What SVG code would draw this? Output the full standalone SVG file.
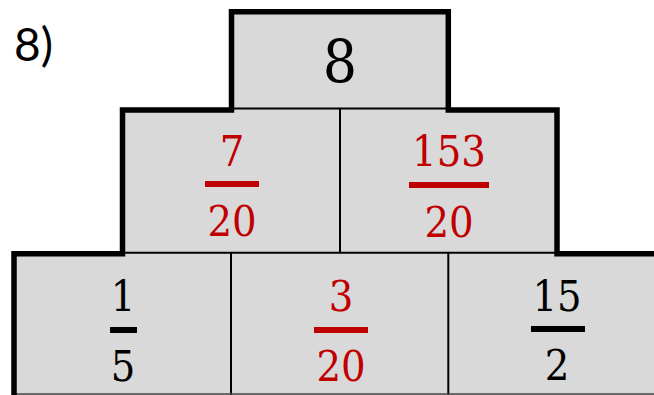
<svg xmlns="http://www.w3.org/2000/svg" width="654" height="395" viewBox="0 0 654 395">
<style>
.cell{fill:#d9d9d9;stroke:none}
.thin{stroke:#000;stroke-width:2;fill:none}
.outline{stroke:#000;stroke-width:5.5;fill:none;stroke-linejoin:miter}
.num{font-family:'DejaVu Serif Condensed','DejaVu Serif',serif;font-stretch:condensed;font-size:43px;text-anchor:middle}
.red{fill:#c00000}
.blk{fill:#000}
.lbl{font-family:Lato,'Open Sans',sans-serif;font-size:46px;fill:#000}
</style>
<rect width="654" height="395" fill="#fff"/>
<text class="lbl" x="14" y="61">8)</text>
<g id="top">
<rect class="cell" x="231.5" y="11.5" width="217" height="98"/>
<text class="num blk" x="340" y="83" style="font-size:60px">8</text>
</g>
<g id="mid-left">
<rect class="cell" x="122.5" y="109" width="218" height="144"/>
<text class="num red" x="232" y="166">7</text>
<rect class="red" x="205" y="181" width="54" height="6"/>
<text class="num red" x="232" y="236">20</text>
</g>
<g id="mid-right">
<rect class="cell" x="340" y="109" width="217" height="144"/>
<text class="num red" x="449" y="166">153</text>
<rect class="red" x="409" y="182" width="80" height="6"/>
<text class="num red" x="449" y="237">20</text>
</g>
<g id="bot-1">
<rect class="cell" x="14" y="253" width="217" height="142"/>
<text class="num blk" x="123" y="311">1</text>
<rect class="blk" x="110" y="327" width="27" height="6"/>
<text class="num blk" x="123" y="381">5</text>
</g>
<g id="bot-2">
<rect class="cell" x="231" y="253" width="218" height="142"/>
<text class="num red" x="341" y="311">3</text>
<rect class="red" x="314" y="327" width="54" height="6"/>
<text class="num red" x="341" y="381">20</text>
</g>
<g id="bot-3">
<rect class="cell" x="448" y="253" width="206" height="142"/>
<text class="num blk" x="557" y="311">15</text>
<rect class="blk" x="531" y="326" width="54" height="6"/>
<text class="num blk" x="557" y="380">2</text>
</g>
<g id="lines">
<line class="thin" x1="231" y1="108.5" x2="449" y2="108.5"/>
<line class="thin" x1="340" y1="108" x2="340" y2="253"/>
<line class="thin" x1="122" y1="252.7" x2="557" y2="252.7"/>
<line class="thin" x1="231" y1="253" x2="231" y2="395"/>
<line class="thin" x1="448.3" y1="253" x2="448.3" y2="395"/>
<line x1="14" y1="394" x2="654" y2="394" stroke="#444" stroke-width="1.5"/>
<path class="outline" d="M14,395 V253.7 H122.5 V110 H231.5 V11.7 H448.3 V110 H557 V253.7 H656"/>
</g>
</svg>
